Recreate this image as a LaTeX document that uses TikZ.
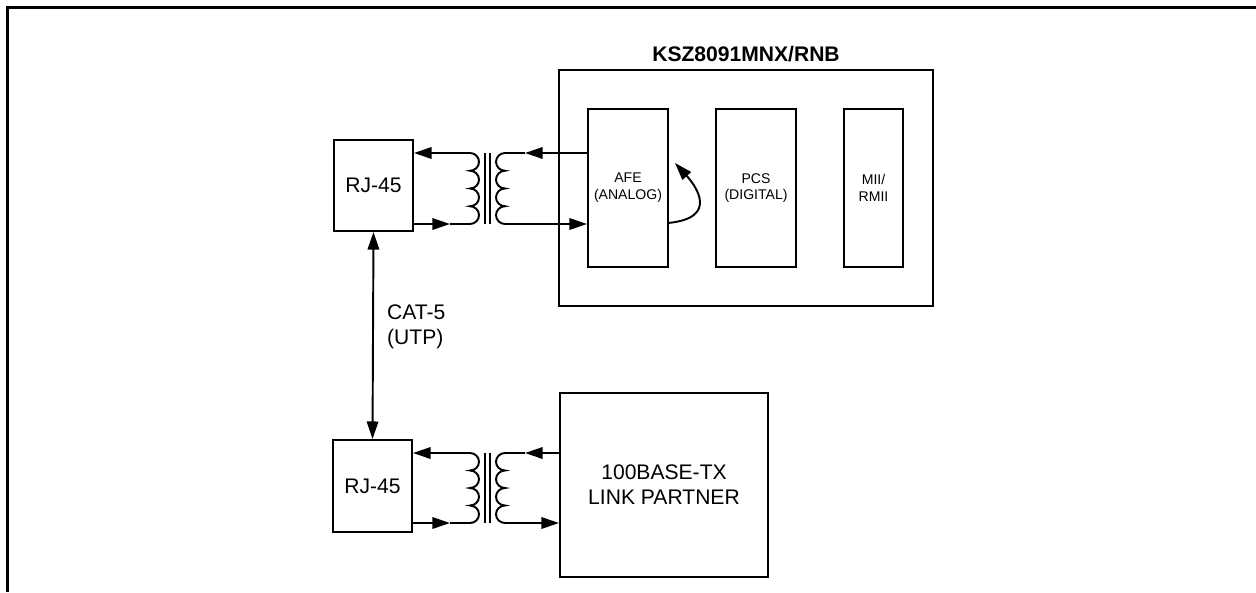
\documentclass[tikz,border=0pt]{standalone}
\usepackage{fontspec}
\setmainfont{Liberation Sans}
\usetikzlibrary{arrows.meta}

\begin{document}
\begin{tikzpicture}[x=0.02cm,y=-0.02cm,
    blk/.style={shape=rectangle,draw=black,line width=1.1pt,inner sep=0pt,align=center},
    big/.style={font=\fontsize{12}{14.2}\selectfont},
    small/.style={font=\fontsize{8}{9.6}\selectfont},
    wire/.style={line width=1.1pt},
    tip/.style={wire,-{Triangle[length=10pt,width=6.5pt]}},
    both/.style={wire,{Triangle[length=10pt,width=6.5pt]}-{Triangle[length=10pt,width=6.5pt]}}]
    \useasboundingbox (0,0) rectangle (1256,592);
    \draw[line width=1.4pt] (7.5,592) -- (7.5,7.5) -- (1256,7.5);

    \node[blk,big,minimum width=1.58cm,minimum height=1.82cm] (rjtop) at (373.5,185.5) {RJ-45};
    \node[blk,big,minimum width=1.58cm,minimum height=1.84cm] (rjbot) at (372.5,486) {RJ-45};
    \node[blk,minimum width=7.48cm,minimum height=4.72cm] (ksz) at (746,188) {};
    \node[font=\bfseries\fontsize{12}{14}\selectfont,anchor=base] (title) at (746,61) {KSZ8091MNX/RNB};
    \node[blk,small,minimum width=1.6cm,minimum height=3.16cm] (afe) at (628,188) {AFE\\(ANALOG)};
    \node[blk,small,minimum width=1.6cm,minimum height=3.16cm] (pcs) at (756,188) {PCS\\(DIGITAL)};
    \node[blk,small,line width=1.5pt,minimum width=1.18cm,minimum height=3.16cm] (mii) at (873.5,188) {MII/\\RMII};
    \node[blk,big,minimum width=4.16cm,minimum height=3.68cm] (partner) at (664,485) {100BASE-TX\\LINK PARTNER};
    \node[big,anchor=west,align=left] (cat) at (381,327) {CAT-5\\(UTP)};

    \foreach \t/\ya/\yb in {t/153/224, b/453/523} {
        \pgfmathsetmacro\r{(\yb-\ya)/8*0.02}
        \coordinate (\t a) at (470,\ya);
        \coordinate (\t b) at (470,\yb);
        \coordinate (\t c) at (505,\ya);
        \coordinate (\t d) at (505,\yb);
        \coordinate (\t m) at (450,\yb);
        \coordinate (\t n) at (525,\ya);
        \draw[wire] (\t a) arc[start angle=90,end angle=-90,x radius=0.18cm,y radius=\r cm]
            arc[start angle=90,end angle=-90,x radius=0.18cm,y radius=\r cm]
            arc[start angle=90,end angle=-90,x radius=0.18cm,y radius=\r cm]
            arc[start angle=90,end angle=-90,x radius=0.18cm,y radius=\r cm];
        \draw[wire] (\t c) arc[start angle=90,end angle=270,x radius=0.18cm,y radius=\r cm]
            arc[start angle=90,end angle=270,x radius=0.18cm,y radius=\r cm]
            arc[start angle=90,end angle=270,x radius=0.18cm,y radius=\r cm]
            arc[start angle=90,end angle=270,x radius=0.18cm,y radius=\r cm];
        \draw[line width=0.9pt] (485,\ya) -- (485,\yb);
        \draw[line width=0.9pt] (490,\ya) -- (490,\yb);
    }

    \draw[tip] (ta) -- (ta -| rjtop.east);
    \draw[tip] (tb -| rjtop.east) -- (tm);
    \draw[wire] (tm) -- (tb);
    \draw[tip] (tc -| afe.west) -- (tn);
    \draw[wire] (tn) -- (tc);
    \draw[tip] (td) -- (td -| afe.west);

    \draw[tip] (ba) -- (ba -| rjbot.east);
    \draw[tip] (bb -| rjbot.east) -- (bm);
    \draw[wire] (bm) -- (bb);
    \draw[tip] (bc -| partner.west) -- (bn);
    \draw[wire] (bn) -- (bc);
    \draw[tip] (bd) -- (bd -| partner.west);

    \draw[both] (rjtop.south) -- (rjbot.north);

    \coordinate (loopa) at (668,223);
    \coordinate (loopb) at (675,163);
    \draw[tip] (loopa) .. controls (720,218) and (695,185) .. (loopb);
\end{tikzpicture}
\end{document}
